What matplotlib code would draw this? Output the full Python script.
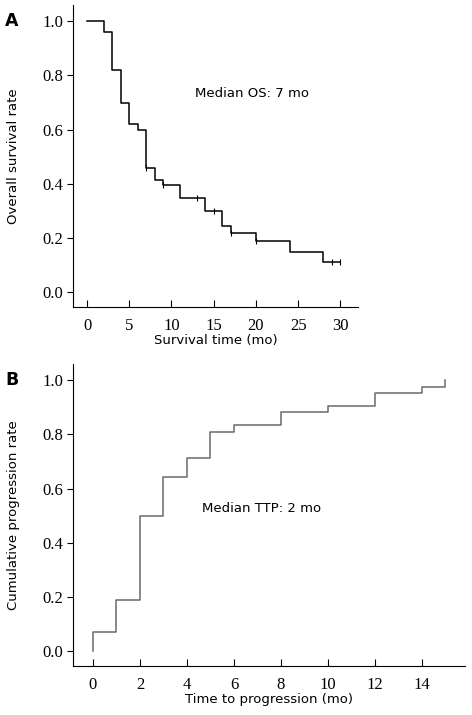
import matplotlib
matplotlib.use("Agg")
import matplotlib.pyplot as plt

# Panel A: overall survival (Kaplan-Meier)
os_time = [0, 2, 3, 4, 5, 6, 7, 8, 9, 11, 14, 16, 17, 20, 24, 28, 30]
os_rate = [1.0, 0.96, 0.82, 0.70, 0.622, 0.60, 0.46, 0.415, 0.395, 0.347, 0.298, 0.243, 0.218, 0.187, 0.148, 0.112, 0.112]
os_cens_time = [7, 9, 13, 15, 17, 20, 29, 30]
os_cens_rate = [0.46, 0.395, 0.347, 0.298, 0.218, 0.187, 0.112, 0.112]

# Panel B: cumulative progression
ttp_time = [0, 0, 1, 2, 3, 4, 5, 6, 8, 10, 12, 14, 15]
ttp_rate = [0.0, 0.07, 0.19, 0.50, 0.643, 0.714, 0.81, 0.833, 0.882, 0.904, 0.954, 0.976, 1.0]

yticks = [0.0, 0.2, 0.4, 0.6, 0.8, 1.0]
tick_font = {'family': 'Liberation Serif', 'size': 12}
label_font = {'family': 'DejaVu Sans', 'size': 9.5}

fig = plt.figure(figsize=(4.72, 7.15), dpi=100)
axA = fig.add_axes([0.1547, 0.5706, 0.604, 0.4224])
axB = fig.add_axes([0.1547, 0.0685, 0.8303, 0.4225])


def style(ax):
    ax.spines['top'].set_visible(False)
    ax.spines['right'].set_visible(False)
    ax.tick_params(axis='y', direction='out', length=4, width=0.8, pad=3)
    ax.tick_params(axis='x', direction='in', length=5, width=0.8, pad=8)
    ax.set_yticks(yticks)
    ax.set_yticklabels([f"{v:.1f}" for v in yticks], fontdict=tick_font)


# A
axA.step(os_time, os_rate, where='post', color='black', lw=1.1)
axA.plot(os_cens_time, os_cens_rate, '|', color='black', ms=4, mew=0.8)
axA.set_xlim(-1.66, 32.1)
axA.set_ylim(-0.055, 1.06)
xA = [0, 5, 10, 15, 20, 25, 30]
axA.set_xticks(xA)
axA.set_xticklabels([str(v) for v in xA], fontdict=tick_font)
style(axA)
axA.set_xlabel("Survival time (mo)", fontdict=label_font, labelpad=0)
axA.set_ylabel("Overall survival rate", fontdict=label_font, labelpad=16)
axA.text(12.8, 0.734, "Median OS: 7 mo", fontdict=label_font, va='center')
fig.text(0.011, 0.963, "A", fontsize=12.5, fontweight='bold', family='DejaVu Sans')

# B
axB.step(ttp_time, ttp_rate, where='post', color='#6a6a6a', lw=1.1)
axB.set_xlim(-0.85, 15.83)
axB.set_ylim(-0.055, 1.06)
xB = list(range(0, 15, 2))
axB.set_xticks(xB)
axB.set_xticklabels([str(v) for v in xB], fontdict=tick_font)
style(axB)
axB.set_xlabel("Time to progression (mo)", fontdict=label_font, labelpad=0)
axB.set_ylabel("Cumulative progression rate", fontdict=label_font, labelpad=16)
axB.text(4.63, 0.528, "Median TTP: 2 mo", fontdict=label_font, va='center')
fig.text(0.011, 0.462, "B", fontsize=12.5, fontweight='bold', family='DejaVu Sans')

fig.savefig("out.png", dpi=100)
